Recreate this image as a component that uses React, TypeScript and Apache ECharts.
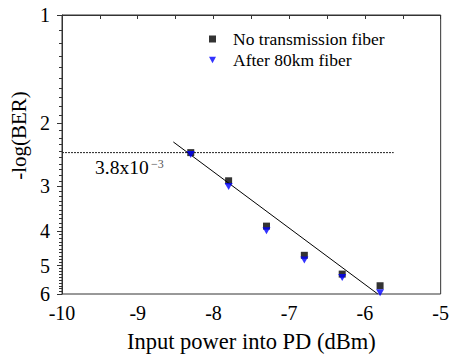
import React, { useEffect, useRef } from 'react';
import * as echarts from 'echarts';

// Input power into PD (dBm)
const xValues = [-8.3, -7.8, -7.3, -6.8, -6.3, -5.8];
// -log(BER)
const noFiber = [2.42, 2.9, 3.88, 4.68, 5.28, 5.69];
const after80km = [2.45, 3.01, 4.0, 4.82, 5.4, 5.95];
// Linear fit line end points
const fitX = [-8.53, -5.83];
const fitY = [2.26, 6.0];
// FEC threshold 3.8x10^-3 -> -log10(3.8e-3)
const thresholdY = 2.42;
const thresholdX = [-10, -5.62];
const yMajor = [1, 2, 3, 4, 5, 6];
const yMinor: number[] = [];
for (let i = 1; i <= 5; i++) for (let j = 1; j <= 9; j++) yMinor.push(i + j / 10);

const T = (v: number) => Math.log10(v);
const FONT = 'Liberation Serif';
const AXIS_COLOR = '#333';
const DOWN_TRIANGLE = 'path://M0,0 L10,0 L5,9 Z';

export default function App() {
  const ref = useRef<HTMLDivElement>(null);
  useEffect(() => {
    if (!ref.current) return;
    const chart = echarts.init(ref.current, undefined, { renderer: 'svg' });
    const option: any = {
      animation: false,
      backgroundColor: '#fff',
      grid: {
        left: 62, right: 11, top: 15, bottom: 65,
        show: true, borderColor: AXIS_COLOR, borderWidth: 1, backgroundColor: 'transparent',
      },
      legend: {
        orient: 'vertical',
        left: 204,
        top: 25,
        itemWidth: 7,
        itemHeight: 7,
        itemGap: 3,
        data: ['No transmission fiber', 'After 80km fiber'],
        textStyle: {
          fontFamily: FONT, fontSize: 17.5, color: '#000', lineHeight: 17,
          padding: [0, 0, 0, 12],
        },
      },
      xAxis: {
        type: 'value',
        min: -10,
        max: -5,
        interval: 1,
        axisLine: { show: true, lineStyle: { color: AXIS_COLOR } },
        axisTick: { show: true, length: 4, lineStyle: { color: AXIS_COLOR } },
        minorTick: { show: true, splitNumber: 2, length: 4, lineStyle: { color: AXIS_COLOR } },
        splitLine: { show: false },
        axisLabel: { fontFamily: FONT, fontSize: 20, color: '#000', margin: 9 },
        name: 'Input power into PD (dBm)',
        nameLocation: 'middle',
        nameGap: 36,
        nameTextStyle: { fontFamily: FONT, fontSize: 22.5, color: '#000' },
      },
      yAxis: [
        {
          type: 'value',
          inverse: true,
          min: 0,
          max: T(6),
          position: 'left',
          axisLine: { show: true, lineStyle: { color: AXIS_COLOR } },
          axisTick: { show: true, length: 5, customValues: yMajor.map(T), lineStyle: { color: AXIS_COLOR } },
          axisLabel: {
            customValues: yMajor.map(T),
            formatter: (v: number) => String(Math.round(Math.pow(10, v))),
            fontFamily: FONT, fontSize: 20, color: '#000', margin: 12,
          },
          splitLine: { show: false },
          name: '-log(BER)',
          nameLocation: 'middle',
          nameGap: 25,
          nameTextStyle: { fontFamily: FONT, fontSize: 21, color: '#000', padding: [0, 0, 0, 38] },
        },
        {
          type: 'value',
          inverse: true,
          min: 0,
          max: T(6),
          position: 'left',
          offset: 0,
          axisLine: { show: false },
          axisTick: { show: true, length: 3, customValues: yMinor.map(T), lineStyle: { color: AXIS_COLOR } },
          axisLabel: { show: false },
          splitLine: { show: false },
        },
      ],
      graphic: [
        {
          type: 'text', left: 95, top: 157,
          style: { text: '3.8x10', fontFamily: FONT, fontSize: 19.5, fill: '#000' },
        },
        {
          type: 'text', left: 151, top: 158,
          style: { text: '\u22123', fontFamily: FONT, fontSize: 12, fill: '#555' },
        },
      ],
      series: [
        {
          name: 'threshold',
          type: 'line',
          data: thresholdX.map((x) => [x, T(thresholdY)]),
          symbol: 'none',
          lineStyle: { color: '#222', width: 1, type: [2, 1] },
          silent: true,
          z: 1,
        },
        {
          name: 'fit',
          type: 'line',
          data: fitX.map((x, i) => [x, T(fitY[i])]),
          symbol: 'none',
          lineStyle: { color: '#000', width: 1 },
          silent: true,
          z: 2,
        },
        {
          name: 'No transmission fiber',
          type: 'scatter',
          data: xValues.map((x, i) => [x, T(noFiber[i])]),
          symbol: 'rect',
          symbolSize: 7,
          itemStyle: { color: '#000' },
          z: 3,
        },
        {
          name: 'After 80km fiber',
          type: 'scatter',
          data: xValues.map((x, i) => [x, T(after80km[i])]),
          symbol: DOWN_TRIANGLE,
          symbolSize: [8, 7],
          itemStyle: { color: '#0000ff' },
          z: 4,
        },
      ],
    };
    chart.setOption(option);
    return () => chart.dispose();
  }, []);
  return <div ref={ref} style={{ position: 'absolute', left: 0, top: 0, width: 452, height: 359 }} />;
}
